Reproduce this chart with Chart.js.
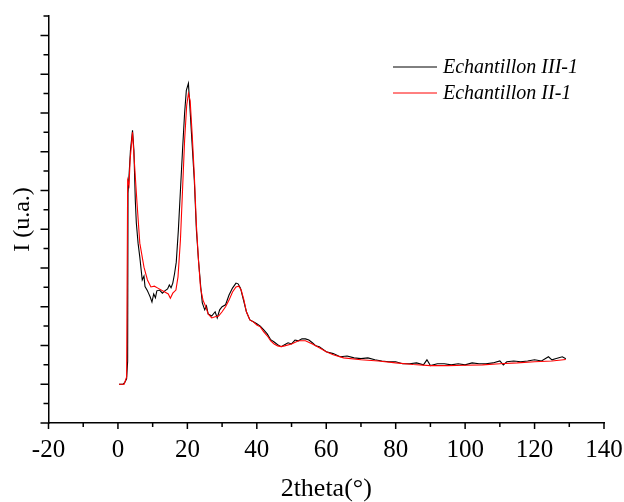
<!DOCTYPE html>
<html>
<head>
<meta charset="utf-8">
<script src="https://cdn.jsdelivr.net/npm/chart.js@4.4.1/dist/chart.umd.min.js"></script>
<style>
  body { margin: 0; background: #fff; }
  canvas { display: block; }
</style>
</head>
<body>
<canvas id="myChart" width="624" height="502"></canvas>
<script>
// Echantillon III-1 (black)
const xIII = [0.3, 1.5, 2.0, 2.5, 2.8, 2.9, 3.2, 3.6, 4.2, 4.6, 5.0, 5.3, 5.8, 6.3, 7.0, 7.5, 7.8, 8.5, 8.8, 9.3,
  9.8, 10.3, 10.8, 11.2, 12, 12.8, 13.5, 14.3, 14.8, 15.3, 15.8, 16.3, 16.8, 17.4, 18.0, 18.6, 19.2, 19.7, 20.3, 20.7,
  21.3, 22, 22.6, 23.2, 23.8, 24.3, 25, 25.5, 26, 27, 28, 28.6, 29.3, 30, 31, 32, 33, 34, 34.6, 35.3,
  36, 37, 38, 39, 40, 41, 42, 43, 44, 45, 46, 47, 48, 49, 50, 51, 52, 53, 54, 55,
  56, 57, 58, 60, 62, 64, 66, 68, 70, 72, 74, 76, 78, 80, 82, 84, 86, 88, 89, 90,
  92, 94, 96, 98, 100, 102, 104, 106, 108, 110, 111, 112, 114, 116, 118, 120, 122, 124, 125, 126, 128, 129];
const yIII = [1.00, 1.00, 1.05, 1.14, 1.6, 5.93, 6.39, 7.03, 7.55, 7.03, 5.75, 5.16, 4.64, 4.28, 3.69, 3.79, 3.52, 3.41, 3.35, 3.25,
  3.12, 3.33, 3.23, 3.41, 3.43, 3.35, 3.41, 3.46, 3.56, 3.49, 3.61, 3.85, 4.15, 4.97, 6.00, 7.03, 7.99, 8.58, 8.76, 8.19,
  7.29, 6.26, 4.98, 4.20, 3.56, 3.10, 2.92, 3.02, 2.81, 2.76, 2.87, 2.71, 2.92, 3.00, 3.05, 3.30, 3.48, 3.61, 3.59, 3.48,
  3.23, 2.87, 2.66, 2.61, 2.56, 2.50, 2.40, 2.30, 2.15, 2.09, 2.02, 1.97, 2.02, 2.07, 2.04, 2.14, 2.12, 2.17, 2.17, 2.14,
  2.07, 1.99, 1.97, 1.84, 1.79, 1.71, 1.73, 1.68, 1.66, 1.68, 1.63, 1.60, 1.58, 1.58, 1.53, 1.53, 1.55, 1.50, 1.63, 1.48,
  1.53, 1.53, 1.50, 1.53, 1.50, 1.55, 1.53, 1.53, 1.55, 1.60, 1.50, 1.58, 1.60, 1.58, 1.60, 1.63, 1.60, 1.71, 1.63, 1.66, 1.71, 1.66];

// Echantillon II-1 (red)
const xII = [0.3, 1.8, 2.2, 2.5, 2.8, 3.2, 3.5, 4.2, 4.7, 5.5, 6.3, 7.5, 8.5, 9.5, 10.5, 11.5, 13.5, 14.5, 15.1, 15.8,
  16.7, 17.3, 18.0, 18.6, 19.2, 19.8, 20.3, 20.8, 21.4, 22, 22.6, 23.2, 23.8, 24.5, 25.3, 26, 27, 28, 29, 30,
  31, 32, 33, 34, 34.8, 35.5, 36.3, 37, 38, 39, 40, 41, 42, 43, 44, 45, 46, 47, 48, 50,
  52, 54, 56, 58, 60, 62, 65, 70, 75, 80, 85, 90, 95, 100, 105, 110, 115, 120, 125, 129];
const yII = [1.00, 1.00, 1.11, 1.19, 6.26, 6.13, 6.78, 7.50, 6.78, 5.67, 4.64, 4.02, 3.69, 3.51, 3.53, 3.48, 3.38, 3.33, 3.22, 3.35,
  3.43, 3.77, 4.72, 6.00, 7.29, 8.19, 8.50, 8.32, 7.42, 6.39, 5.10, 4.20, 3.48, 3.17, 3.00, 2.81, 2.71, 2.74, 2.76, 2.87,
  3.00, 3.17, 3.38, 3.51, 3.53, 3.43, 3.17, 2.87, 2.66, 2.61, 2.53, 2.48, 2.35, 2.25, 2.12, 2.04, 1.99, 1.97, 1.99, 2.04,
  2.12, 2.12, 2.04, 1.94, 1.84, 1.76, 1.68, 1.63, 1.60, 1.55, 1.51, 1.48, 1.48, 1.49, 1.50, 1.53, 1.55, 1.58, 1.60, 1.64];

const labels = ["Echantillon III-1", "Echantillon II-1"];
const colors = ["#000000", "#ff0000"];

const xMin = -20, xMax = 140, xMajor = 20, xMinor = 10;
const yMin = 0, yMax = 10.5, yMajor = 1, yMinor = 0.5;

function toPoints(xs, ys) {
  return xs.map((x, i) => ({ x: x, y: ys[i] }));
}

// major + minor tick marks, pointing outward
const axisTicks = {
  id: "axisTicks",
  afterDraw(chart) {
    const ctx = chart.ctx;
    const xs = chart.scales.x;
    const ys = chart.scales.y;
    ctx.save();
    ctx.strokeStyle = "#000";
    ctx.lineWidth = 1.5;
    ctx.beginPath();
    for (let v = xMin; v <= xMax; v += xMinor) {
      const px = xs.getPixelForValue(v);
      const len = v % xMajor === 0 ? 6 : 4;
      ctx.moveTo(px, xs.top);
      ctx.lineTo(px, xs.top + len);
    }
    for (let v = yMin; v <= yMax + 0.001; v += yMinor) {
      const py = ys.getPixelForValue(v);
      const len = Math.abs(v % yMajor) < 0.001 ? 8 : 5;
      ctx.moveTo(ys.right, py);
      ctx.lineTo(ys.right - len, py);
    }
    ctx.stroke();
    ctx.restore();
  },
};

// legend drawn like the Origin one
const lineLegend = {
  id: "lineLegend",
  afterDraw(chart) {
    const ctx = chart.ctx;
    ctx.save();
    ctx.font = "italic 20px 'Liberation Serif'";
    ctx.textBaseline = "middle";
    ctx.fillStyle = "#000";
    labels.forEach((lab, i) => {
      const yy = 67 + i * 26;
      ctx.strokeStyle = colors[i];
      ctx.lineWidth = 1;
      ctx.beginPath();
      ctx.moveTo(393, yy);
      ctx.lineTo(437, yy);
      ctx.stroke();
      ctx.fillText(lab, 443, yy + 1);
    });
    ctx.restore();
  },
};

const ctx = document.getElementById("myChart").getContext("2d");
const myChart = new Chart(ctx, {
  type: "line",
  data: {
    datasets: [
      {
        label: labels[0],
        data: toPoints(xIII, yIII),
        borderColor: colors[0],
        borderWidth: 1.1,
        pointRadius: 0,
        order: 1,
      },
      {
        label: labels[1],
        data: toPoints(xII, yII),
        borderColor: colors[1],
        borderWidth: 1.1,
        pointRadius: 0,
        order: 0,
      },
    ],
  },
  options: {
    responsive: false,
    animation: false,
    devicePixelRatio: 1,
    layout: { padding: { top: 16, right: 0, left: 0, bottom: 0 } },
    plugins: {
      legend: { display: false },
      tooltip: { enabled: false },
    },
    scales: {
      x: {
        type: "linear",
        min: xMin,
        max: xMax,
        grid: { display: false },
        border: { display: true, color: "#000", width: 1.5 },
        ticks: {
          stepSize: xMajor,
          color: "#000",
          padding: 4,
          maxRotation: 0,
          font: { family: "'Liberation Serif'", size: 25 },
        },
        title: {
          display: true,
          text: "2theta(°)",
          color: "#000",
          padding: 0,
          font: { family: "'Liberation Serif'", size: 26, lineHeight: 1 },
        },
        afterFit(scale) {
          scale.height = 79;
          scale.paddingRight = 20;
          scale.paddingLeft = 0;
        },
      },
      y: {
        type: "linear",
        min: yMin,
        max: yMax,
        grid: { display: false },
        border: { display: true, color: "#000", width: 1.5 },
        ticks: { display: false, stepSize: yMajor },
        title: {
          display: true,
          text: "I (u.a.)",
          color: "#000",
          padding: { top: 8, bottom: 0 },
          font: { family: "'Liberation Serif'", size: 24, lineHeight: 1.2 },
        },
        afterFit(scale) {
          scale.width = 48.5;
        },
      },
    },
  },
  plugins: [axisTicks, lineLegend],
});
</script>
</body>
</html>
